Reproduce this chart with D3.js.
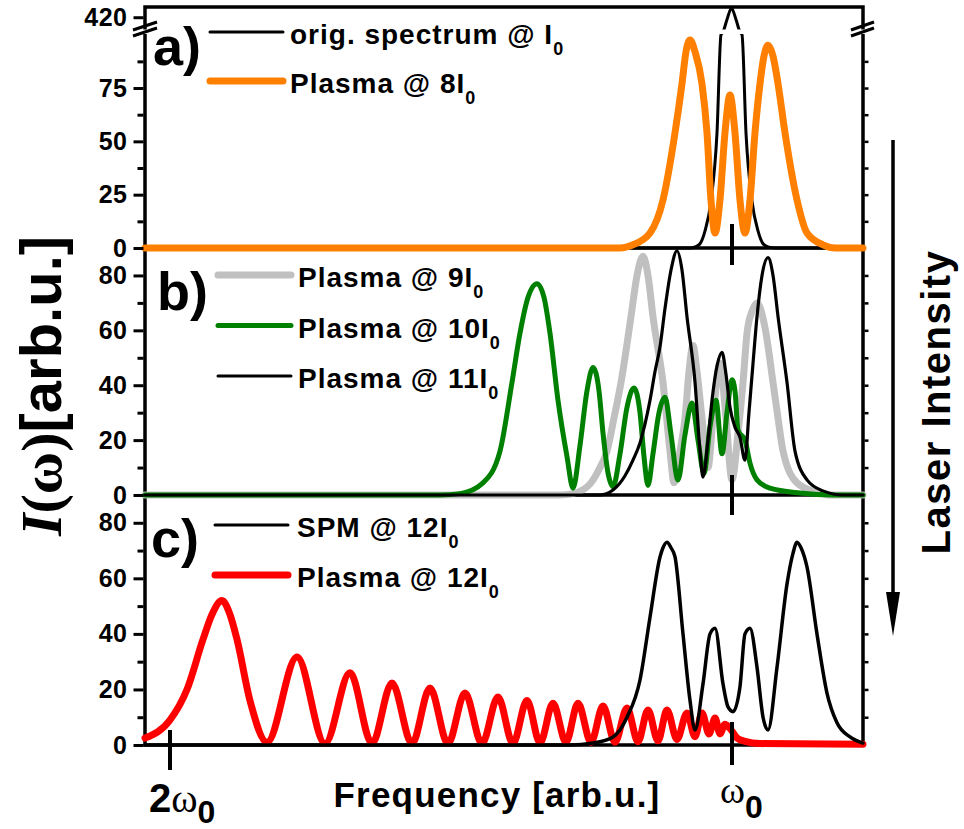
<!DOCTYPE html>
<html><head><meta charset="utf-8">
<script src="https://cdn.jsdelivr.net/npm/d3@7"></script>
<style>body{margin:0;background:#fff} svg{display:block}</style>
</head><body><svg id="chart" width="964" height="829"></svg>
<script>
// ---------- data (frequency in units of ω0, intensity in arb.u.) ----------
const xTickValues = [2, 1];
const ticksA = [0, 25, 50, 75, 420];
const minorA = [12.5, 37.5, 62.5, 87.5];
const ticksB = [0, 20, 40, 60, 80];
const minorB = [10, 30, 50, 70];
const ticksC = [0, 20, 40, 60, 80];
const minorC = [10, 30, 50, 70];

// panel a
const origSpectrum = [[2.0445,0],[1.0747,0],[1.0658,0.5],[1.0569,2],[1.0480,8],[1.0374,22],[1.0267,54],[1.0196,100],[1.0160,413.5],[1.0089,419],[1.0009,424],[0.9929,419],[0.9858,413.5],[0.9822,100],[0.9751,54],[0.9644,22],[0.9537,8],[0.9448,2],[0.9359,0.5],[0.9235,0],[0.7669,0]];
const plasma8 = [[2.0445,0],[1.1993,0],[1.1762,1.5],[1.1459,7],[1.1228,22.5],[1.1014,54],[1.0890,77],[1.0819,92],[1.0747,97.5],[1.0658,92],[1.0534,77],[1.0445,54],[1.0374,22.5],[1.0302,7],[1.0214,22.5],[1.0125,54],[1.0036,71.7],[0.9947,54],[0.9858,22.5],[0.9769,7],[0.9680,22.5],[0.9591,54],[0.9502,77],[0.9431,90],[0.9359,95],[0.9270,90],[0.9181,77],[0.9057,54],[0.8843,22.5],[0.8665,7],[0.8381,1.5],[0.8167,0],[0.7669,0]];
// panel b
const plasma9 = [[2.0445,0],[1.3061,0],[1.2829,0.5],[1.2527,4],[1.2349,10],[1.2224,16],[1.2100,28],[1.1975,41],[1.1797,65],[1.1690,80],[1.1584,87],[1.1495,80],[1.1406,65],[1.1228,41],[1.1103,16],[1.1032,4.5],[1.0925,16],[1.0836,28],[1.0765,45],[1.0694,54.5],[1.0623,45],[1.0534,28],[1.0427,10],[1.0338,28],[1.0214,48],[1.0107,28],[1.0000,5.5],[0.9893,22.5],[0.9804,41],[0.9733,59],[0.9644,67],[0.9555,70],[0.9413,61],[0.9270,41],[0.9181,28],[0.9092,16],[0.8843,4.4],[0.8488,1],[0.8256,0],[0.7669,0]];
const plasma10 = [[2.0445,0],[1.5196,0],[1.4840,0.5],[1.4431,4.4],[1.4128,16],[1.3915,41],[1.3772,59],[1.3630,72],[1.3470,77],[1.3345,72],[1.3239,59],[1.3096,34.5],[1.2936,14],[1.2829,2.5],[1.2705,18],[1.2580,38],[1.2473,46.5],[1.2367,38],[1.2295,22.5],[1.2206,8],[1.2117,3],[1.1993,15],[1.1868,32],[1.1744,39],[1.1637,30],[1.1566,14],[1.1495,3.5],[1.1406,15],[1.1299,30],[1.1192,35.6],[1.1085,22],[1.0961,5.5],[1.0836,22],[1.0712,33.5],[1.0605,20],[1.0498,8],[1.0391,25],[1.0285,34.5],[1.0178,15],[1.0089,30],[1.0000,42],[0.9947,38],[0.9893,23.6],[0.9769,20],[0.9680,11.6],[0.9555,5.5],[0.9324,2.5],[0.8790,0.7],[0.8203,0],[0.7669,0]];
const plasma11 = [[2.0445,0],[1.2349,0],[1.2117,1.8],[1.1904,7],[1.1762,12.7],[1.1637,19],[1.1459,34.5],[1.1370,45],[1.1281,54],[1.1192,68],[1.1085,82],[1.0979,89],[1.0890,82],[1.0801,65],[1.0658,41],[1.0569,16],[1.0516,6.5],[1.0427,20],[1.0356,34.5],[1.0267,47],[1.0178,52],[1.0107,44],[1.0036,32],[0.9947,24.7],[0.9858,21],[0.9769,12.7],[0.9698,30],[0.9626,48],[0.9555,65],[0.9466,80],[0.9359,86.5],[0.9270,80],[0.9181,65],[0.9021,41],[0.8879,16],[0.8665,5.5],[0.8381,1.5],[0.8025,0],[0.7669,0]];
// panel c
const spm12 = [[2.0445,0],[1.2883,0],[1.2473,0.7],[1.2117,2.9],[1.1868,10],[1.1637,23.4],[1.1459,46],[1.1281,67.7],[1.1228,71],[1.1157,73],[1.1085,71],[1.1014,67.7],[1.0872,40],[1.0747,16],[1.0658,5.4],[1.0516,22],[1.0391,40],[1.0302,42],[1.0160,22],[1.0071,13.7],[0.9982,12],[0.9858,21],[0.9769,40],[0.9680,42],[0.9555,28],[0.9448,10],[0.9359,5.4],[0.9199,28],[0.9021,58],[0.8915,69],[0.8843,73],[0.8772,71],[0.8665,64],[0.8488,40],[0.8310,18.7],[0.8132,8],[0.7900,2.9],[0.7669,0.7]];
const plasma12 = [[2.0445,2.5],[2.0000,9],[1.9698,20],[1.9413,38],[1.9253,47],[1.9075,52],[1.8933,47],[1.8808,38],[1.8577,16],[1.8274,1],[1.7740,31.7],[1.7242,0.5],[1.6797,26],[1.6406,0.5],[1.6050,22.3],[1.5694,0.5],[1.5374,20.5],[1.5054,0.5],[1.4751,18.7],[1.4449,0.5],[1.4164,17.3],[1.3897,0.5],[1.3648,16],[1.3416,0.7],[1.3185,15],[1.2954,1],[1.2740,15],[1.2509,1],[1.2295,14],[1.2082,1],[1.1868,13.3],[1.1673,1.2],[1.1495,12.6],[1.1317,1.5],[1.1157,12.6],[1.0979,2],[1.0801,11.5],[1.0658,3],[1.0534,11.5],[1.0409,4],[1.0302,9.7],[1.0214,4],[1.0125,7.5],[1.0000,5],[0.9911,2.5],[0.9769,1.3],[0.9502,0.5],[0.7669,0.3]];

// ---------- layout ----------
const svg = d3.select("#chart");
const L = 145, R = 863;
const x = d3.scaleLinear().domain([2.0445, 0.7669]).range([L, R]);
const yA = d3.scaleLinear().domain([0, 100, 413.5, 424.5]).range([248, 34.7, 32, 7]);
const yB = d3.scaleLinear().domain([0, 90]).range([495, 248]);
const yC = d3.scaleLinear().domain([0, 90]).range([745, 495]);
const SANS = "'Liberation Sans', Arial, sans-serif";

// frame
const frame = svg.append("g").attr("stroke", "#000").attr("stroke-width", 3.5).attr("fill", "none");
frame.append("rect").attr("x", L).attr("y", 7).attr("width", R - L).attr("height", 745 - 7);
[248, 495].forEach(v => frame.append("line").attr("x1", L).attr("x2", R).attr("y1", v).attr("y2", v));

// curves
function draw(data, y, color, w) {
  svg.append("path").datum(data)
    .attr("d", d3.line().x(d => x(d[0])).y(d => y(d[1])).curve(d3.curveMonotoneX))
    .attr("fill", "none").attr("stroke", color).attr("stroke-width", w)
    .attr("stroke-linejoin", "round").attr("stroke-linecap", "round");
}
draw(origSpectrum, yA, "#000", 3);
draw(plasma8, yA, "#FF8000", 7);
draw(plasma9, yB, "#C0C0C0", 7);
draw(plasma10, yB, "#008000", 5);
draw(plasma11, yB, "#000", 3.2);
draw(plasma12, yC, "#FF0000", 7);
draw(spm12, yC, "#000", 3.5);

// axis break
svg.append("rect").attr("x", 130).attr("y", 29.5).attr("width", 745).attr("height", 4.5).attr("fill", "#fff");
[[133, 157], [851, 874]].forEach(([a, b]) => {
  [0, 6].forEach(o => svg.append("line").attr("x1", a).attr("y1", 33 + o - 3).attr("x2", b).attr("y2", 25 + o - 3)
    .attr("stroke", "#000").attr("stroke-width", 3));
});

// left axes (ticks + labels)
function leftAxis(y, majors, minors) {
  const g = svg.append("g").attr("transform", `translate(${L - 1.5},0)`)
    .call(d3.axisLeft(y).tickValues(majors).tickSize(10).tickPadding(6).tickFormat(d3.format("d")));
  g.select(".domain").remove();
  g.selectAll(".tick line").attr("stroke-width", 3);
  g.selectAll(".tick text").attr("font-family", SANS).attr("font-weight", "bold").attr("font-size", 25)
    .attr("letter-spacing", "0.5px").attr("fill", "#000");
  const m = svg.append("g").attr("transform", `translate(${L - 1.5},0)`)
    .call(d3.axisLeft(y).tickValues(minors).tickSize(6).tickFormat(""));
  m.select(".domain").remove();
  m.selectAll(".tick line").attr("stroke-width", 3);
  const r = svg.append("g").attr("transform", `translate(${R + 1.5},0)`)
    .call(d3.axisRight(y).tickValues(majors.concat(minors).filter(v => v > 0 && v < 100)).tickSize(4).tickFormat(""));
  r.select(".domain").remove();
  r.selectAll(".tick line").attr("stroke-width", 2.5);
}
leftAxis(yA, ticksA, minorA);
leftAxis(yB, ticksB, minorB);
leftAxis(yC, ticksC, minorC);

// ω0 / 2ω0 markers crossing panel boundaries
const tickG = svg.append("g").attr("stroke", "#000").attr("stroke-width", 4);
tickG.append("line").attr("x1", x(xTickValues[1])).attr("x2", x(xTickValues[1])).attr("y1", 224).attr("y2", 265);
tickG.append("line").attr("x1", x(xTickValues[1])).attr("x2", x(xTickValues[1])).attr("y1", 475).attr("y2", 515);
tickG.append("line").attr("x1", x(xTickValues[1])).attr("x2", x(xTickValues[1])).attr("y1", 722).attr("y2", 765);
tickG.append("line").attr("x1", x(xTickValues[0])).attr("x2", x(xTickValues[0])).attr("y1", 730).attr("y2", 770);

// legends
function legend(items, x0, x1, tx, y0, dy) {
  items.forEach((it, i) => {
    const yy = y0 + i * dy;
    svg.append("line").attr("x1", x0).attr("x2", x1).attr("y1", yy).attr("y2", yy)
      .attr("stroke", it.color).attr("stroke-width", it.w).attr("stroke-linecap", "round");
    const t = svg.append("text").attr("x", tx).attr("y", yy + 12).attr("font-family", SANS)
      .attr("font-weight", "bold").attr("font-size", 28).attr("letter-spacing", "1px").attr("fill", "#000");
    t.append("tspan").text(it.label);
    t.append("tspan").attr("font-size", 18).attr("dy", 11).text("0");
  });
}
legend([{label: "orig. spectrum @ I", color: "#000", w: 3}, {label: "Plasma @ 8I", color: "#FF8000", w: 7}], 210, 283, 290, 32, 49);
legend([{label: "Plasma @ 9I", color: "#C0C0C0", w: 7}, {label: "Plasma @ 10I", color: "#008000", w: 5}, {label: "Plasma @ 11I", color: "#000", w: 3}], 218, 291, 298, 275, 50.5);
legend([{label: "SPM @ 12I", color: "#000", w: 3}, {label: "Plasma @ 12I", color: "#FF0000", w: 7}], 215, 288, 297, 525, 50);

// panel letters
[["a)", 153, 65], ["b)", 157, 310], ["c)", 151, 557]].forEach(([s, px, py]) =>
  svg.append("text").attr("x", px).attr("y", py).attr("font-family", SANS).attr("font-weight", "bold")
    .attr("font-size", 54).text(s));

// x labels
const xl = svg.append("g").attr("font-family", SANS).attr("font-weight", "bold").attr("fill", "#000");
xl.append("text").attr("x", 497).attr("y", 807).attr("text-anchor", "middle").attr("font-size", 35)
  .attr("letter-spacing", "1.2px").text("Frequency [arb.u.]");
const t2 = xl.append("text").attr("x", 149).attr("y", 812).attr("font-size", 40);
t2.append("tspan").text("2");
t2.append("tspan").attr("font-family", "'Liberation Serif', serif").attr("font-weight", "normal").text("ω");
t2.append("tspan").attr("font-size", 32).attr("dy", 11).text("0");
const t1 = xl.append("text").attr("x", 720).attr("y", 803).attr("font-size", 38);
t1.append("tspan").attr("font-family", "'Liberation Serif', serif").attr("font-weight", "normal").text("ω");
t1.append("tspan").attr("font-size", 32).attr("dy", 15).text("0");

// y title
const yt = svg.append("text").attr("transform", "translate(61,386) rotate(-90)").attr("text-anchor", "middle")
  .attr("font-size", 58).attr("font-weight", "bold").attr("fill", "#000");
yt.append("tspan").attr("font-family", "'Liberation Serif', serif").attr("font-style", "italic").text("I");
yt.append("tspan").attr("font-family", "'Liberation Serif', serif").text("(ω)");
yt.append("tspan").attr("font-family", SANS).text("[arb.u.]");

// laser intensity + arrow
svg.append("text").attr("transform", "translate(950,402) rotate(-90)").attr("text-anchor", "middle")
  .attr("font-family", SANS).attr("font-weight", "bold").attr("font-size", 40).attr("letter-spacing", "1.5px")
  .text("Laser Intensity");
svg.append("line").attr("x1", 893).attr("x2", 893).attr("y1", 140).attr("y2", 600).attr("stroke", "#000").attr("stroke-width", 3.5);
svg.append("path").attr("d", "M886,592 L900,592 L893,636 Z").attr("fill", "#000");
</script></body></html>
